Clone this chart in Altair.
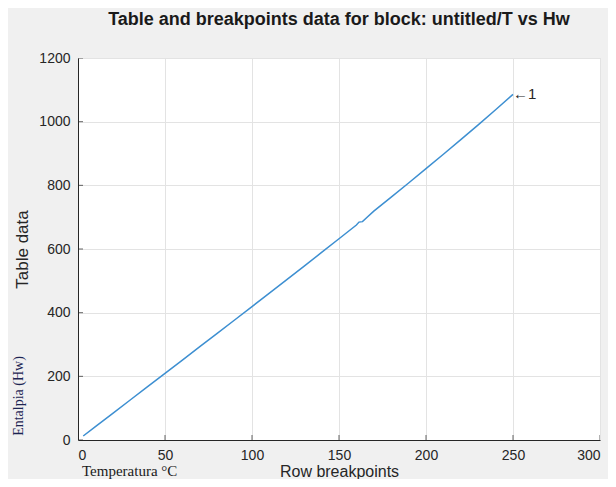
import altair as alt
import pandas as pd

temps = [3, 10, 20, 30, 40, 50, 60, 70, 80, 90, 100, 110, 120, 130, 140, 150,
         160, 161.5, 163.5, 166, 170, 180, 190, 200, 210, 220, 230, 240, 250]
hw = [12.6, 42.0, 83.9, 125.7, 167.5, 209.3, 251.2, 293.1, 335.0, 377.0, 419.2,
      461.4, 503.8, 546.4, 589.2, 632.2, 675.5, 684.5, 686.0, 699.0, 719.1, 763.1,
      807.4, 852.3, 897.6, 943.6, 990.1, 1037.5, 1085.8]
x_ticks = [0, 50, 100, 150, 200, 250, 300]
y_ticks = [0, 200, 400, 600, 800, 1000, 1200]

df = pd.DataFrame({"T": temps, "Hw": hw})
xt = pd.DataFrame({"v": x_ticks})
yt = pd.DataFrame({"v": y_ticks})
end_pt = pd.DataFrame({"T": [temps[-1]], "Hw": [hw[-1]], "lab": ["\u21901"]})

AX = "#262626"
FONT = "Liberation Sans"

xs = alt.Scale(domain=[0, 300], nice=False)
ys = alt.Scale(domain=[0, 1200], nice=False)

line = alt.Chart(df).mark_line(color="#3d8fd1", strokeWidth=1.5).encode(
    x=alt.X("T:Q", scale=xs, title="Row breakpoints",
            axis=alt.Axis(values=x_ticks, ticks=False, labelPadding=8,
                          titlePadding=1, titleFontSize=16, format="d")),
    y=alt.Y("Hw:Q", scale=ys, title="Table data",
            axis=alt.Axis(values=y_ticks, ticks=False, labelPadding=8,
                          titlePadding=7, format="d")),
)

xtick = alt.Chart(xt).mark_tick(orient="vertical", size=10, color=AX,
                                thickness=1, clip=True).encode(
    x=alt.X("v:Q", scale=xs), y=alt.value(382))
ytick = alt.Chart(yt).mark_tick(orient="horizontal", size=10, color=AX,
                                thickness=1, clip=True).encode(
    y=alt.Y("v:Q", scale=ys), x=alt.value(0))

lab = alt.Chart(end_pt).mark_text(align="left", baseline="middle", dx=0,
                                  fontSize=15, font=FONT, color=AX).encode(
    x=alt.X("T:Q", scale=xs), y=alt.Y("Hw:Q", scale=ys), text="lab:N")

ent = alt.Chart(pd.DataFrame({"t": ["Entalpia (Hw)"]})).mark_text(
    angle=270, font="Liberation Serif", fontSize=14, color="#1c2452",
    align="center", baseline="middle").encode(
    x=alt.value(-59), y=alt.value(338), text="t:N")

tmp = alt.Chart(pd.DataFrame({"t": ["Temperatura \u00b0C"]})).mark_text(
    font="Liberation Serif", fontSize=15, color="#1a1a1a",
    align="left", baseline="middle").encode(
    x=alt.value(4), y=alt.value(413), text="t:N")

chart = alt.layer(line, xtick, ytick, lab, ent, tmp).properties(
    width=522, height=382,
    autosize=alt.AutoSizeParams(type="none"),
    padding={"left": 70, "top": 50, "right": 8, "bottom": 39},
    background="#f0f0f0",
    title=alt.TitleParams("Table and breakpoints data for block: untitled/T vs Hw",
                          font=FONT, fontSize=18, fontWeight="bold",
                          color="#1a1a1a", offset=22, anchor="middle"),
).configure_view(fill="white", stroke="#dcdcdc", strokeWidth=1).configure_axis(
    domainColor=AX, labelColor=AX, titleColor=AX, labelFont=FONT,
    titleFont=FONT, labelFontSize=14, titleFontSize=17,
    titleFontWeight="normal", gridColor="#e3e3e3", gridWidth=1,
)

chart.save("out.html", embed_options={"renderer": "svg", "actions": False})
